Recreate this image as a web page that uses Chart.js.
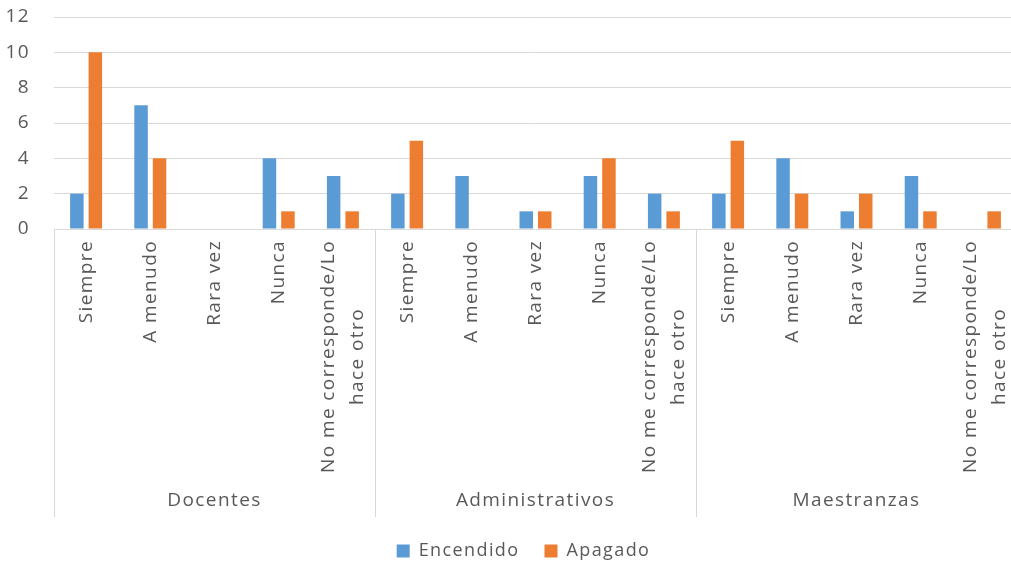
<!DOCTYPE html>
<html><head><meta charset="utf-8">
<script src="https://cdn.jsdelivr.net/npm/chart.js@4.4.1/dist/chart.umd.min.js"></script>
<style>html,body{margin:0;padding:0;overflow:hidden;background:#fff;width:1011px;height:565px}canvas{display:block}</style>
</head><body>
<canvas id="c" width="1018" height="565" style="width:1018px;height:565px"></canvas>
<script>
const groups = ["Docentes", "Administrativos", "Maestranzas"];
const answers = [["Siempre"], ["A menudo"], ["Rara vez"], ["Nunca"], ["No me corresponde/Lo", "hace otro"]];
const encendido = [2, 7, 0, 4, 3,  2, 3, 1, 3, 2,  2, 4, 1, 3, 0];
const apagado   = [10, 4, 0, 1, 1,  5, 0, 1, 4, 1,  5, 2, 2, 1, 1];
const yTicks = [0, 2, 4, 6, 8, 10, 12];

const labels = [];
groups.forEach(g => answers.forEach(a => labels.push(a)));

const FONT = "'Open Sans', sans-serif";
const TXT = "#595959";
const LINE = "#d9d9d9";
const SPACING = '1.4px';

const spacingPlugin = {
  id: 'spacing',
  beforeInit(chart) { chart.ctx.letterSpacing = SPACING; },
  beforeUpdate(chart) { chart.ctx.letterSpacing = SPACING; },
  beforeLayout(chart) { chart.ctx.letterSpacing = SPACING; },
  afterLayout(chart) {
    const l = chart.legend;
    if (l) { l.left += 15; l.right += 15; }
  },
  beforeDraw(chart) { chart.ctx.letterSpacing = SPACING; }
};

const groupPlugin = {
  id: 'groupPlugin',
  afterDraw(chart) {
    const ctx = chart.ctx, xs = chart.scales.x, area = chart.chartArea;
    const bottom = area.bottom;
    ctx.save();
    ctx.letterSpacing = SPACING;
    ctx.strokeStyle = LINE; ctx.lineWidth = 1;
    ctx.beginPath(); ctx.moveTo(area.left, bottom + 0.5); ctx.lineTo(area.right, bottom + 0.5); ctx.stroke();
    const n = answers.length;
    for (let g = 0; g <= groups.length; g++) {
      const idx = g * n;
      const x = Math.round(xs.getPixelForValue(idx - 0.5)) + 0.5;
      ctx.beginPath(); ctx.moveTo(x, bottom); ctx.lineTo(x, bottom + 288); ctx.stroke();
    }
    ctx.fillStyle = TXT;
    ctx.font = "19px " + FONT;
    ctx.textBaseline = 'middle';
    ctx.textAlign = 'center';
    const lh = 29;
    labels.forEach((lines, i) => {
      const x = xs.getPixelForValue(i);
      const w = Math.max(...lines.map(l => ctx.measureText(l).width));
      ctx.save();
      ctx.translate(x, bottom + 11);
      ctx.rotate(-Math.PI / 2);
      lines.forEach((l, j) => {
        ctx.fillText(l, -w / 2, (j - (lines.length - 1) / 2) * lh);
      });
      ctx.restore();
    });
    groups.forEach((g, k) => {
      const x = (xs.getPixelForValue(k * n - 0.5) + xs.getPixelForValue((k + 1) * n - 0.5)) / 2;
      ctx.fillText(g, x, bottom + 272);
    });
    ctx.restore();
  }
};

new Chart(document.getElementById('c'), {
  type: 'bar',
  data: {
    labels: labels.map(l => l.join(' ')),
    datasets: [
      { label: 'Encendido', data: encendido, backgroundColor: '#5B9BD5', categoryPercentage: 0.576, barPercentage: 0.73 },
      { label: 'Apagado', data: apagado, backgroundColor: '#ED7D31', categoryPercentage: 0.576, barPercentage: 0.73 }
    ]
  },
  options: {
    responsive: false,
    animation: false,
    devicePixelRatio: 1,
    layout: { padding: { top: 17, right: 1, left: 0, bottom: -5 } },
    scales: {
      x: {
        grid: { display: false },
        border: { display: false },
        ticks: { display: false },
        afterFit(s) { s.height = 288; }
      },
      y: {
        min: 0, max: 12,
        afterBuildTicks(s) { s.ticks = yTicks.map(v => ({ value: v })); },
        ticks: { stepSize: 2, padding: 24, color: TXT, font: { family: FONT, size: 19 } },
        grid: { color: LINE, drawTicks: false },
        border: { display: false },
        afterFit(s) { s.width = 54; s.paddingTop = 0; s.paddingBottom = 0; }
      }
    },
    plugins: {
      legend: {
        position: 'bottom',
        labels: { boxWidth: 13, boxHeight: 13, padding: 25, color: TXT, font: { family: FONT, size: 18 } }
      },
      tooltip: { enabled: false }
    }
  },
  plugins: [spacingPlugin, groupPlugin]
});
</script>
</body></html>
